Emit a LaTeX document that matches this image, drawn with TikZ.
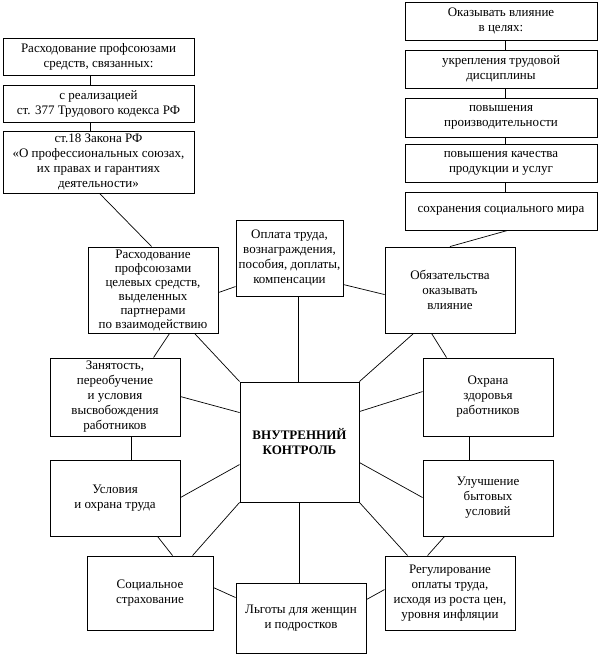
\documentclass[tikz,border=0pt]{standalone}
\usepackage{fontspec}
\setmainfont{Liberation Serif}
\usetikzlibrary{calc}
\begin{document}
\begin{tikzpicture}[x=1pt,y=-1pt,
  box/.style={draw, line width=0.9pt, align=center, inner sep=0pt, font=\fontsize{13}{15}\selectfont},
  conn/.style={line width=0.7pt}]
\useasboundingbox (0,0) rectangle (600,656);
% left chain
\node[box, minimum width=191pt, minimum height=37pt] (L1) at (98.5,56.5) {Расходование профсоюзами\\средств,  связанных:};
\node[box, minimum width=191pt, minimum height=37pt] (L2) at (98.5,103.5) {с  реализацией\\ст. 377 Трудового кодекса РФ};
\node[box, minimum width=191pt, minimum height=62pt] (L3) at (98.5,162) {ст.18 Закона РФ\\«О профессиональных союзах,\\их правах и гарантиях\\деятельности»};
% right chain
\node[box, minimum width=192pt, minimum height=38pt] (R1) at (501,21) {Оказывать влияние\\в целях:};
\node[box, minimum width=192pt, minimum height=38pt] (R2) at (501,69) {укрепления трудовой\\дисциплины};
\node[box, minimum width=192pt, minimum height=39pt] (R3) at (501,117.5) {повышения\\производительности};
\node[box, minimum width=192pt, minimum height=38pt] (R4) at (501,163) {повышения качества\\продукции и услуг};
\node[box, minimum width=192pt, minimum height=38pt] (R5) at (501,211) {сохранения социального мира};
% middle row
\node[box, minimum width=130pt, minimum height=86pt, font=\fontsize{13}{14}\selectfont] (M1) at (153,290) {Расходование\\профсоюзами\\целевых средств,\\выделенных\\партнерами\\по взаимодействию};
\node[box, minimum width=107pt, minimum height=76pt] (M2) at (289.5,258) {Оплата труда,\\вознаграждения,\\пособия, доплаты,\\компенсации};
\node[box, minimum width=130pt, minimum height=86pt] (M3) at (450,290) {Обязательства\\оказывать\\влияние};
% ring
\node[box, minimum width=130pt, minimum height=78pt] (A) at (115,397) {Занятость,\\переобучение\\и условия\\высвобождения\\работников};
\node[box, minimum width=130pt, minimum height=78pt] (B) at (488,397) {Охрана\\здоровья\\работников};
\node[box, minimum width=119pt, minimum height=120pt, font=\fontsize{13}{15}\selectfont\bfseries] (K) at (299.5,442) {ВНУТРЕННИЙ\\КОНТРОЛЬ};
\node[box, minimum width=130pt, minimum height=76pt] (C) at (115,498) {Условия\\и охрана труда};
\node[box, minimum width=130pt, minimum height=76pt] (D) at (488,498) {Улучшение\\бытовых\\условий};
\node[box, minimum width=126pt, minimum height=74pt] (E) at (150,593) {Социальное\\страхование};
\node[box, minimum width=130pt, minimum height=74pt] (G) at (450,593) {Регулирование\\оплаты труда,\\исходя из роста цен,\\уровня инфляции};
\node[box, minimum width=130pt, minimum height=70pt] (F) at (301,618) {Льготы для женщин\\и подростков};
% connectors
\draw[conn] ($(L1.south west)+(88,0)$) -- ($(L2.north west)+(88,0)$);
\draw[conn] ($(L2.south west)+(88,0)$) -- ($(L3.north west)+(88,0)$);
\draw[conn] ($(L3.south west)+(97,0)$) -- ($(M1.north west)+(64,0)$);
\draw[conn] ($(R1.south west)+(101,0)$) -- ($(R2.north west)+(101,0)$);
\draw[conn] ($(R2.south west)+(101,0)$) -- ($(R3.north west)+(101,0)$);
\draw[conn] ($(R3.south west)+(101,0)$) -- ($(R4.north west)+(101,0)$);
\draw[conn] ($(R4.south west)+(101,0)$) -- ($(R5.north west)+(101,0)$);
\draw[conn] ($(R5.south west)+(103,0)$) -- (M3.north);
\draw[conn] ($(M1.north east)+(0,46)$) -- ($(M2.north west)+(0,67)$);
\draw[conn] ($(M2.north east)+(0,65)$) -- ($(M3.north west)+(0,48)$);
\draw[conn] ($(M2.south west)+(63,0)$) -- ($(K.north west)+(59,0)$);
\draw[conn] ($(M1.south west)+(82,0)$) -- ($(A.north west)+(104,0)$);
\draw[conn] ($(M1.south west)+(107,0)$) -- (K.north west);
\draw[conn] ($(M3.south west)+(29,0)$) -- (K.north east);
\draw[conn] ($(M3.south west)+(47,0)$) -- ($(B.north west)+(24,0)$);
\draw[conn] ($(A.north east)+(0,39)$) -- ($(K.north west)+(0,31)$);
\draw[conn] ($(K.north east)+(0,30)$) -- ($(B.north west)+(0,34)$);
\draw[conn] ($(A.south west)+(82,0)$) -- ($(C.north west)+(82,0)$);
\draw[conn] ($(B.south west)+(47,0)$) -- ($(D.north west)+(47,0)$);
\draw[conn] ($(C.north east)+(0,38)$) -- ($(K.north west)+(0,83)$);
\draw[conn] ($(K.north east)+(0,81)$) -- ($(D.north west)+(0,38)$);
\draw[conn] ($(C.south west)+(108,0)$) -- ($(E.north west)+(86,0)$);
\draw[conn] (K.south west) -- ($(E.north west)+(106,0)$);
\draw[conn] ($(E.north east)+(0,32)$) -- ($(F.north west)+(0,15)$);
\draw[conn] ($(K.south west)+(60,0)$) -- ($(F.north west)+(64,0)$);
\draw[conn] ($(F.north east)+(0,17)$) -- ($(G.north west)+(0,34)$);
\draw[conn] (K.south east) -- ($(G.north west)+(23,0)$);
\draw[conn] ($(D.south west)+(22,0)$) -- ($(G.north west)+(43,0)$);
\end{tikzpicture}
\end{document}
